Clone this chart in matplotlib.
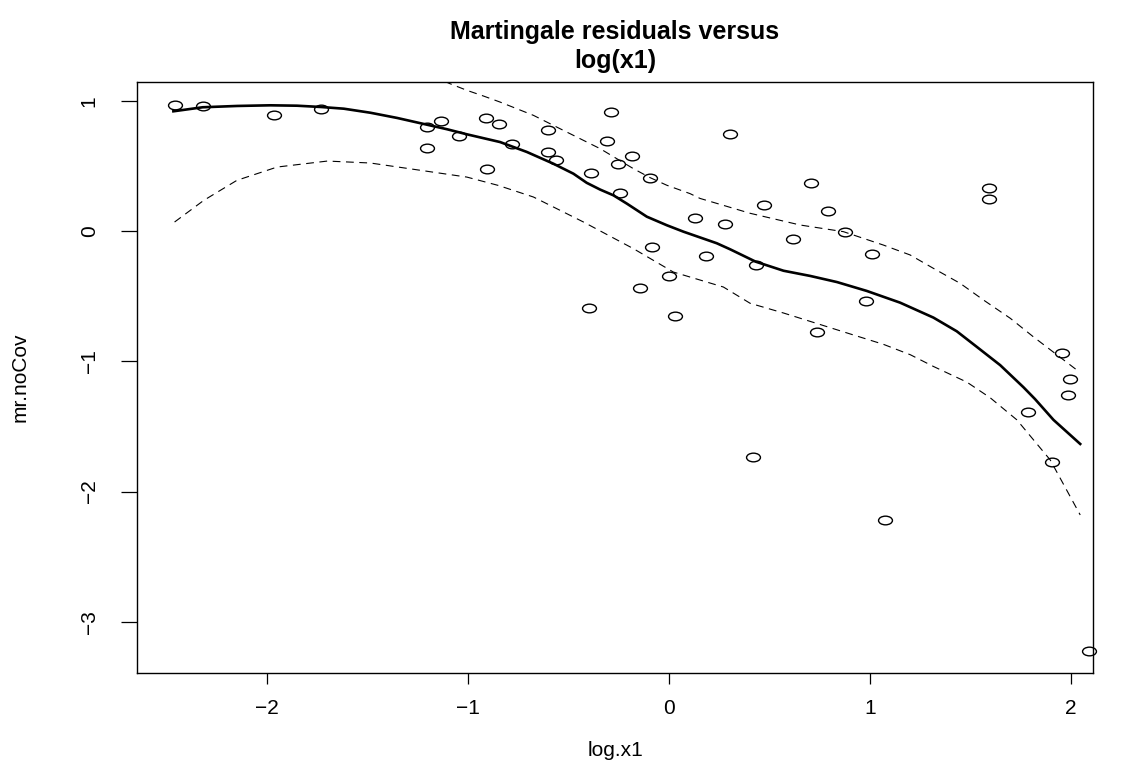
import numpy as np
import matplotlib
matplotlib.use("Agg")
import matplotlib.pyplot as plt
from matplotlib.path import Path
from matplotlib.transforms import Affine2D

plt.rcParams['font.family'] = ['Liberation Sans', 'DejaVu Sans']

# points: log.x1 vs martingale residuals
log_x1 = [-2.46, -2.32, -1.965, -1.73, -1.136, -1.204, -1.204, -1.045,
          -0.909, -0.846, -0.904, -0.781, -0.602, -0.602, -0.564, -0.29,
          -0.31, -0.39, -0.187, -0.252, -0.095, -0.245, 0.128, 0.279,
          -0.085, 0.181, 0.0, -0.144, -0.398, 0.03, 0.305, 0.706,
          0.474, 0.79, 0.876, 0.618, 1.589, 1.589, 1.011, 0.43,
          0.98, 0.736, 1.955, 1.992, 1.984, 1.783, 1.905, 1.076,
          2.09, 0.418]
mr_nocov = [0.97, 0.957, 0.888, 0.934, 0.845, 0.80, 0.637, 0.727,
            0.87, 0.819, 0.478, 0.666, 0.773, 0.607, 0.543, 0.911,
            0.691, 0.445, 0.576, 0.512, 0.407, 0.292, 0.102, 0.051,
            -0.125, -0.192, -0.345, -0.438, -0.591, -0.65, 0.747, 0.371,
            0.202, 0.154, -0.005, -0.064, 0.333, 0.246, -0.179, -0.264,
            -0.537, -0.773, -0.939, -1.139, -1.259, -1.392, -1.773, -2.221,
            -3.222, -1.735]

# smooth fit
fit_x = [-2.466, -2.32, -2.149, -1.984, -1.851, -1.731, -1.618, -1.486,
         -1.353, -1.204, -1.104, -1.005, -0.841, -0.708, -0.576, -0.476,
         -0.41, -0.343, -0.277, -0.21, -0.111, -0.011, 0.071, 0.237, 0.303,
         0.43, 0.569, 0.702, 0.835, 0.983, 1.149, 1.315, 1.431, 1.531,
         1.647, 1.763, 1.82, 1.912, 2.045]
fit_y = [0.919, 0.95, 0.96, 0.965, 0.962, 0.952, 0.939, 0.908,
         0.868, 0.816, 0.781, 0.742, 0.683, 0.607, 0.517, 0.44,
         0.37, 0.318, 0.274, 0.21, 0.11, 0.044, -0.005, -0.094, -0.14,
         -0.235, -0.305, -0.345, -0.392, -0.46, -0.55, -0.665, -0.77, -0.89,
         -1.03, -1.2, -1.29, -1.45, -1.635]

# upper band (runs off the top of the box on the left)
up_x = [-1.3, -1.09, -1.006, -0.923, -0.841, -0.758, -0.675, -0.559, -0.46,
        -0.343, -0.26, -0.177, -0.095, -0.011, 0.104, 0.154, 0.27, 0.403,
        0.652, 0.867, 1.066, 1.199, 1.315, 1.448, 1.564, 1.697, 1.81, 2.028]
up_y = [1.27, 1.131, 1.08, 1.036, 0.99, 0.939, 0.888, 0.798, 0.722,
        0.632, 0.555, 0.478, 0.41, 0.351, 0.287, 0.25, 0.197, 0.136,
        0.046, -0.005, -0.108, -0.184, -0.287, -0.402, -0.53, -0.67, -0.81,
        -1.067]

# lower band
lo_x = [-2.46, -2.315, -2.15, -1.95, -1.70, -1.486, -1.237, -1.006, -0.85,
        -0.675, -0.426, -0.177, 0.021, 0.27, 0.403, 0.57, 0.735, 0.9,
        1.066, 1.2, 1.315, 1.481, 1.597, 1.73, 1.896, 2.045]
lo_y = [0.069, 0.235, 0.389, 0.491, 0.537, 0.522, 0.466, 0.414, 0.35,
        0.261, 0.069, -0.136, -0.315, -0.43, -0.555, -0.63, -0.71, -0.79,
        -0.87, -0.95, -1.04, -1.16, -1.28, -1.45, -1.758, -2.18]

fig = plt.figure(figsize=(11.21, 7.67), dpi=100)
ax = fig.add_axes([0.1222, 0.1226, 0.8529, 0.7705])

# R's circles come out stretched sideways in the reference
ellipse = Path.unit_circle().transformed(Affine2D().scale(1.6, 1.0))

ax.plot(log_x1, mr_nocov, ls='none', marker=ellipse, ms=10,
        mfc='none', mec='black', mew=1.0, clip_on=False)
ax.plot(fit_x, fit_y, c='black', lw=1.9)
ax.plot(up_x, up_y, c='black', lw=0.8, dashes=(7, 5))
ax.plot(lo_x, lo_y, c='black', lw=0.8, dashes=(7, 5))

ax.set_xlim(-2.647, 2.109)
ax.set_ylim(-3.393, 1.144)
ax.set_xticks([-2, -1, 0, 1, 2])
ax.set_yticks([-3, -2, -1, 0, 1])
ax.set_xticklabels(['\u22122', '\u22121', '0', '1', '2'])
ax.set_yticklabels(['\u22123', '\u22122', '\u22121', '0', '1'],
                   rotation=90, va='center')
ax.tick_params(width=0.9, labelsize=15, colors='black')
ax.tick_params(axis='x', length=8, pad=11)
ax.tick_params(axis='y', length=11.5, pad=16)
for s in ax.spines.values():
    s.set_linewidth(1.0)

ax.set_xlabel('log.x1', fontsize=15, labelpad=16)
ax.set_ylabel('mr.noCov', fontsize=15, labelpad=36)
ax.set_title('Martingale residuals versus\nlog(x1)', fontsize=18,
             fontweight='bold', pad=10, linespacing=1.25)

fig.savefig('out.png', dpi=100)
